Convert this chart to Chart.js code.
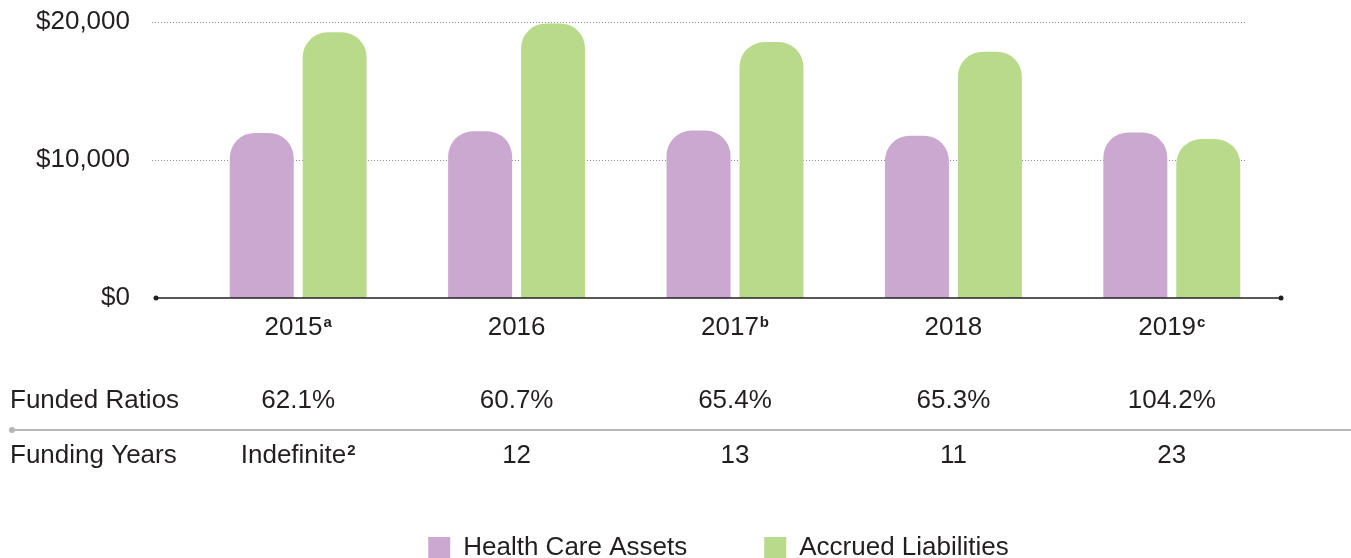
<!DOCTYPE html>
<html>
<head>
<meta charset="utf-8">
<script src="https://cdn.jsdelivr.net/npm/chart.js@4.4.1/dist/chart.umd.min.js"></script>
<style>
    html, body { margin: 0; padding: 0; overflow: hidden; background: #fff; }
    #wrap { width: 1351px; height: 571px; }
</style>
</head>
<body>
<div id="wrap"><canvas id="fundChart" width="1351" height="571"></canvas></div>
<script>
'use strict';

// 데이터
const years = ['2015', '2016', '2017', '2018', '2019'];
const yearNotes = ['a', '', 'b', '', 'c'];
const healthCareAssets = [11960, 12080, 12130, 11760, 12000];
const accruedLiabilities = [19250, 19900, 18550, 17850, 11520];
const fundedRatios = ['62.1%', '60.7%', '65.4%', '65.3%', '104.2%'];
const fundingYears = ['Indefinite', '12', '13', '11', '23'];
const fundingYearNotes = ['2', '', '', '', ''];
const yTicks = [0, 10000, 20000];

const colors = {
    assets: '#caa8cf',
    liabilities: '#b9da8a',
    text: '#231f20',
    grid: '#8c8c8c',
    rule: '#b5b5b5'
};
const FONT = '"Liberation Sans", Arial, Helvetica, sans-serif';
const TEXT_SIZE = 26;

Chart.defaults.font.family = FONT;
Chart.defaults.color = colors.text;

// 텍스트 + 위첨자 (가운데 정렬)
function drawNoted(ctx, text, note, cx, baseline) {
    ctx.font = `${TEXT_SIZE}px ${FONT}`;
    const w1 = ctx.measureText(text).width;
    ctx.font = `bold 15px ${FONT}`;
    const w2 = note ? ctx.measureText(note).width + 1 : 0;
    const x0 = cx - (w1 + w2) / 2;
    ctx.textAlign = 'left';
    ctx.textBaseline = 'alphabetic';
    ctx.font = `${TEXT_SIZE}px ${FONT}`;
    ctx.fillText(text, x0, baseline);
    if (note) {
        ctx.font = `bold 15px ${FONT}`;
        ctx.fillText(note, x0 + w1 + 1, baseline - 8);
    }
}

const decorPlugin = {
    id: 'decor',
    afterLayout(chart) {
        // 범례 위치 보정
        chart.legend.left = 86;
        chart.legend.right = chart.width;
    },
    beforeDatasetsDraw(chart) {
        const { ctx, chartArea, scales: { y } } = chart;
        ctx.save();
        ctx.strokeStyle = colors.grid;
        ctx.lineWidth = 1;
        ctx.setLineDash([1, 2]);
        yTicks.filter(v => v > 0).forEach(v => {
            const py = Math.round(y.getPixelForValue(v)) + 0.5;
            ctx.beginPath();
            ctx.moveTo(chartArea.left - 37, py);
            ctx.lineTo(chartArea.right - 36, py);
            ctx.stroke();
        });
        ctx.restore();
    },
    afterDatasetsDraw(chart) {
        const { ctx, chartArea, scales: { x, y } } = chart;
        ctx.save();
        // 기준선
        const y0 = y.getPixelForValue(0);
        const xl = chartArea.left - 33;
        const xr = chartArea.right;
        ctx.strokeStyle = colors.text;
        ctx.lineWidth = 1.5;
        ctx.beginPath();
        ctx.moveTo(xl, y0);
        ctx.lineTo(xr, y0);
        ctx.stroke();
        ctx.fillStyle = colors.text;
        [xl, xr].forEach(px => {
            ctx.beginPath();
            ctx.arc(px, y0, 2.5, 0, Math.PI * 2);
            ctx.fill();
        });

        // 연도 라벨
        years.forEach((yr, i) => {
            drawNoted(ctx, yr, yearNotes[i], x.getPixelForValue(i), 335);
        });

        // 표
        ctx.textAlign = 'left';
        ctx.textBaseline = 'alphabetic';
        ctx.font = `${TEXT_SIZE}px ${FONT}`;
        ctx.fillText('Funded Ratios', 10, 408);
        ctx.fillText('Funding Years', 10, 463);
        fundedRatios.forEach((v, i) => {
            drawNoted(ctx, v, '', x.getPixelForValue(i), 408);
        });
        fundingYears.forEach((v, i) => {
            drawNoted(ctx, v, fundingYearNotes[i], x.getPixelForValue(i), 463);
        });

        // 구분선
        ctx.strokeStyle = colors.rule;
        ctx.lineWidth = 2;
        ctx.beginPath();
        ctx.moveTo(12, 430);
        ctx.lineTo(chart.width, 430);
        ctx.stroke();
        ctx.fillStyle = colors.rule;
        ctx.beginPath();
        ctx.arc(12, 430, 3, 0, Math.PI * 2);
        ctx.fill();
        ctx.restore();
    }
};

new Chart(document.getElementById('fundChart'), {
    type: 'bar',
    data: {
        labels: years,
        datasets: [{
            label: 'Health Care Assets',
            data: healthCareAssets,
            backgroundColor: colors.assets
        }, {
            label: 'Accrued Liabilities',
            data: accruedLiabilities,
            backgroundColor: colors.liabilities
        }]
    },
    options: {
        responsive: false,
        animation: false,
        layout: { padding: { left: 10, right: 70, top: 22, bottom: 0 } },
        datasets: {
            bar: {
                categoryPercentage: 0.668,
                barPercentage: 0.877,
                borderRadius: 25,
                borderSkipped: 'start'
            }
        },
        plugins: {
            legend: {
                position: 'bottom',
                labels: {
                    boxWidth: 22,
                    boxHeight: 22,
                    padding: 77,
                    color: colors.text,
                    font: { size: 26 }
                }
            },
            tooltip: { enabled: false }
        },
        scales: {
            x: {
                ticks: { display: false },
                grid: { display: false, drawTicks: false },
                border: { display: false },
                afterFit: scale => { scale.height = 160; }
            },
            y: {
                min: 0,
                max: 20000,
                afterBuildTicks: axis => { axis.ticks = yTicks.map(v => ({ value: v })); },
                ticks: {
                    padding: 59,
                    font: { size: 26 },
                    color: colors.text,
                    callback: v => '$' + v.toLocaleString('en-US')
                },
                grid: { display: false, drawTicks: false },
                border: { display: false },
                afterFit: scale => {
                    scale.width = 179;
                    scale.paddingTop = 0;
                    scale.paddingBottom = 0;
                }
            }
        }
    },
    plugins: [decorPlugin]
});
</script>
</body>
</html>
